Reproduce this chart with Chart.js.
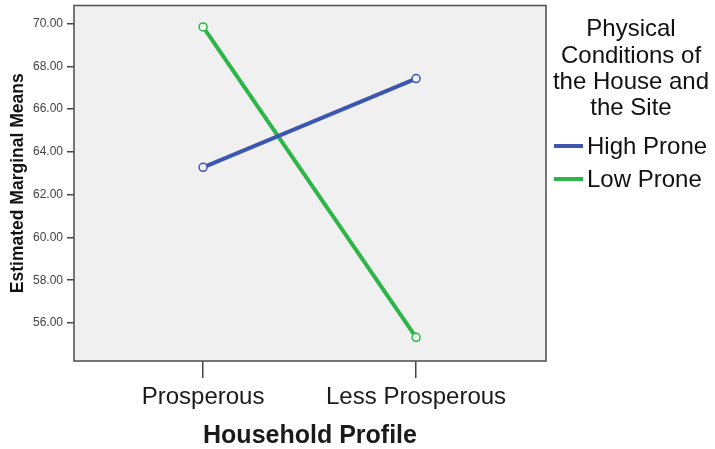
<!DOCTYPE html>
<html>
<head>
<meta charset="utf-8">
<script src="https://cdn.jsdelivr.net/npm/chart.js@4.4.0/dist/chart.umd.min.js"></script>
<style>
  html, body { margin: 0; padding: 0; background: #ffffff; }
  #wrap { position: relative; width: 715px; height: 449px; }
</style>
</head>
<body>
<div id="wrap"><canvas id="c" width="715" height="449"></canvas></div>
<script>
const categories = ["Prosperous", "Less Prosperous"];
const highProne = [63.28, 67.43];
const lowProne = [69.85, 55.33];
const yTickValues = [56, 58, 60, 62, 64, 66, 68, 70];
const legendTitleLines = ["Physical", "Conditions of", "the House and", "the Site"];
const seriesNames = ["High Prone", "Low Prone"];
const seriesColors = ["#3d56b0", "#2db548"];

const FONT = "'Liberation Sans', Arial, sans-serif";

const frameAndLegend = {
  id: 'frameAndLegend',
  beforeDatasetsDraw(chart) {
    const {ctx, chartArea: a} = chart;
    ctx.save();
    ctx.fillStyle = '#f0f0f0';
    ctx.fillRect(a.left, a.top, a.right - a.left, a.bottom - a.top);
    ctx.strokeStyle = '#555555';
    ctx.lineWidth = 1.6;
    ctx.strokeRect(a.left, a.top, a.right - a.left, a.bottom - a.top);
    ctx.restore();
  },
  afterDraw(chart) {
    const {ctx} = chart;
    ctx.save();
    ctx.fillStyle = '#111111';
    ctx.font = '24px ' + FONT;
    ctx.textAlign = 'center';
    ctx.textBaseline = 'alphabetic';
    const cx = 631;
    const baselines = [36, 63, 89, 115];
    legendTitleLines.forEach((t, i) => ctx.fillText(t, cx, baselines[i]));
    const entryBaselines = [154, 187];
    ctx.textAlign = 'left';
    seriesNames.forEach((name, i) => {
      const by = entryBaselines[i];
      ctx.strokeStyle = seriesColors[i];
      ctx.lineWidth = 4;
      ctx.beginPath();
      ctx.moveTo(554, by - 8);
      ctx.lineTo(583, by - 8);
      ctx.stroke();
      ctx.fillStyle = '#111111';
      ctx.fillText(name, 587, by);
    });
    ctx.restore();
  }
};

const toPoints = arr => arr.map((v, i) => ({x: i, y: v}));

new Chart(document.getElementById('c'), {
  type: 'line',
  data: {
    datasets: [
      {
        label: seriesNames[0],
        data: toPoints(highProne),
        borderColor: seriesColors[0],
        backgroundColor: seriesColors[0],
        borderWidth: 4,
        pointRadius: 4,
        pointBorderWidth: 1.5,
        pointBackgroundColor: '#eef0f6',
        pointBorderColor: seriesColors[0]
      },
      {
        label: seriesNames[1],
        data: toPoints(lowProne),
        borderColor: seriesColors[1],
        backgroundColor: seriesColors[1],
        borderWidth: 4,
        pointRadius: 4,
        pointBorderWidth: 1.5,
        pointBackgroundColor: '#eef6ee',
        pointBorderColor: seriesColors[1]
      }
    ]
  },
  options: {
    responsive: false,
    animation: false,
    layout: { padding: { top: 5, right: 169, left: 0, bottom: 0 } },
    plugins: {
      legend: { display: false },
      tooltip: { enabled: false }
    },
    scales: {
      x: {
        type: 'linear',
        min: -0.606,
        max: 1.61,
        afterBuildTicks(scale) { scale.ticks = categories.map((c, i) => ({value: i})); },
        afterFit(scale) { scale.height = 88; scale.paddingLeft = 0; scale.paddingRight = 0; },
        ticks: {
          callback: (v) => categories[v],
          color: '#1a1a1a',
          font: { family: FONT, size: 24 },
          padding: 5,
          maxRotation: 0,
          autoSkip: false
        },
        grid: {
          drawOnChartArea: false,
          drawTicks: true,
          tickLength: 17,
          color: '#444444',
          lineWidth: 1.5
        },
        border: { display: false },
        title: {
          display: true,
          text: 'Household Profile',
          color: '#1a1a1a',
          font: { family: FONT, size: 25, weight: 'bold', lineHeight: 1.0 },
          padding: { top: 0, bottom: 0 }
        }
      },
      y: {
        type: 'linear',
        min: 54.22,
        max: 70.85,
        afterBuildTicks(scale) { scale.ticks = yTickValues.map(v => ({value: v})); },
        afterFit(scale) { scale.width = 74; scale.paddingTop = 0; scale.paddingBottom = 0; },
        ticks: {
          callback: (v) => Number(v).toFixed(2),
          color: '#444444',
          font: { family: FONT, size: 12 },
          padding: 4,
          autoSkip: false
        },
        grid: {
          drawOnChartArea: false,
          drawTicks: true,
          tickLength: 7,
          color: '#444444',
          lineWidth: 1.5
        },
        border: { display: false },
        title: {
          display: true,
          text: 'Estimated Marginal Means',
          color: '#111111',
          font: { family: FONT, size: 17.5, weight: 'bold' },
          padding: { top: 8, bottom: 0 }
        }
      }
    }
  },
  plugins: [frameAndLegend]
});
</script>
</body>
</html>
